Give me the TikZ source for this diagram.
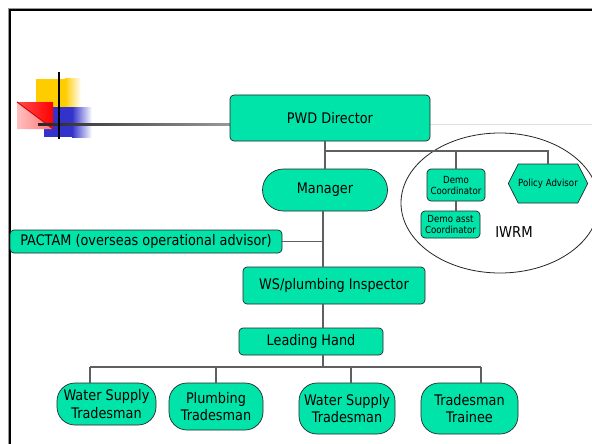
\documentclass[tikz,border=0pt]{standalone}
\usepackage{fontspec}
\setmainfont{DejaVu Sans}[FakeStretch=0.88]
\usetikzlibrary{shapes.geometric,shapes.symbols,shadings}
\definecolor{mint}{RGB}{0,228,170}
\definecolor{conncol}{RGB}{95,95,95}
\definecolor{logoyellow}{RGB}{255,204,0}
\definecolor{logoblue}{RGB}{51,51,204}
\begin{document}
\begin{tikzpicture}[x=1pt,y=-1pt,
  orgbox/.style={draw=black!85, fill=mint, line width=0.7pt, rounded corners=4pt,
     inner sep=0pt, align=center, font=\fontsize{14.6}{17.5}\selectfont},
  smallbox/.style={orgbox, font=\fontsize{9.8}{11}\selectfont},
  pillbox/.style={orgbox, rounded corners=18pt},
  connector/.style={draw=conncol, line width=1.1pt}
]
\useasboundingbox (0,0) rectangle (592,444);
\fill[white] (0,0) rectangle (592,444);

% frame
\draw[black!40, line width=0.8pt] (8,444) -- (8,8) -- (592,8);
\draw[black, line width=2.2pt] (10,444) -- (10,10) -- (592,10);

% logo decoration
\fill[logoyellow] (36,79) rectangle (65,107);
\shade[left color=logoyellow, right color=white] (65,79) rectangle (81,107);
\fill[logoblue] (44,107) rectangle (72,137);
\shade[left color=logoblue, right color=white] (72,107) rectangle (92,137);
\shade[left color=red!25, right color=red!55] (17,102) -- (17,129) -- (53,129) -- cycle;
\shade[left color=red!70, right color=red] (17,102) -- (53,102) -- (53,129) -- cycle;
\draw[red!80!black, line width=0.9pt] (17,102) -- (53,129);
\shade[left color=black!85, right color=black!40] (38,123.2) rectangle (230,125.2);
\draw[black!12, line width=1.5pt] (430,124.5) -- (592,124.5);
\draw[black, line width=2pt] (59,72) -- (59,139);

% IWRM ellipse
\node[draw=black!85, line width=0.8pt, ellipse, minimum width=198pt, minimum height=140pt, inner sep=0pt] (iwrm) at (500,203) {};
\node[font=\fontsize{15}{17}\selectfont, inner sep=0pt] (iwrmlabel) at (514,232) {IWRM};

% nodes
\node[orgbox, minimum width=200pt, minimum height=46pt] (pwd) at (330,118) {PWD Director};
\node[orgbox, rounded corners=21pt, minimum width=125pt, minimum height=42pt] (mgr) at (325,190) {Manager};
\node[orgbox, minimum width=272pt, minimum height=23pt] (pactam) at (146,241.5) {PACTAM (overseas operational advisor)};
\node[orgbox, minimum width=182pt, minimum height=37pt] (insp) at (334,285.5) {WS/plumbing Inspector};
\node[orgbox, minimum width=144pt, minimum height=27pt] (lh) at (311,341.5) {Leading Hand};

\node[pillbox, minimum width=99pt, minimum height=42pt] (b1) at (106.5,404) {Water Supply\\Tradesman};
\node[pillbox, minimum width=94pt, minimum height=47pt] (b2) at (216,406.5) {Plumbing\\Tradesman};
\node[pillbox, minimum width=96pt, minimum height=51pt] (b3) at (347,408.5) {Water Supply\\Tradesman};
\node[pillbox, minimum width=97pt, minimum height=51pt] (b4) at (469.5,408.5) {Tradesman\\Trainee};

\node[smallbox, minimum width=58pt, minimum height=32pt] (dc) at (456,185) {Demo\\Coordinator};
\node[smallbox, minimum width=59pt, minimum height=27pt] (da) at (450.5,224.5) {Demo asst\\Coordinator};
\node[draw=black!85, fill=mint, line width=0.7pt, shape=signal, signal from=nowhere, signal to=east and west,
      signal pointer angle=126, inner sep=0pt, minimum width=70pt, minimum height=39pt,
      font=\fontsize{9.8}{11}\selectfont] (pa) at (548,183.5) {Policy Advisor};

% helper coordinates
\coordinate (spine) at (323,0);
\coordinate (topbar) at (0,151);
\coordinate (botbar) at (0,367);
\coordinate (s1) at (90,367);
\coordinate (s2) at (216,367);
\coordinate (s3) at (351,367);
\coordinate (s4) at (481,367);

% connectors
\draw[connector] (pwd.south -| mgr.north) -- (mgr.north);
\draw[connector] (mgr.north |- topbar) -- (pa.north |- topbar) -- (pa.north);
\draw[connector] (dc.north |- topbar) -- (dc.north);
\draw[connector] (dc.south) -- (dc.south |- da.north);
\draw[connector] (mgr.south -| spine) -- (insp.north -| spine);
\draw[connector] (pactam.east) -- (pactam.east -| spine);
\draw[connector] (insp.south -| spine) -- (lh.north -| spine);
\draw[connector] (lh.south -| spine) -- (botbar -| spine);
\draw[connector] (s1) -- (s4);
\draw[connector] (s1) -- (s1 |- b1.north);
\draw[connector] (s2) -- (s2 |- b2.north);
\draw[connector] (s3) -- (s3 |- b3.north);
\draw[connector] (s4) -- (s4 |- b4.north);
\end{tikzpicture}
\end{document}
